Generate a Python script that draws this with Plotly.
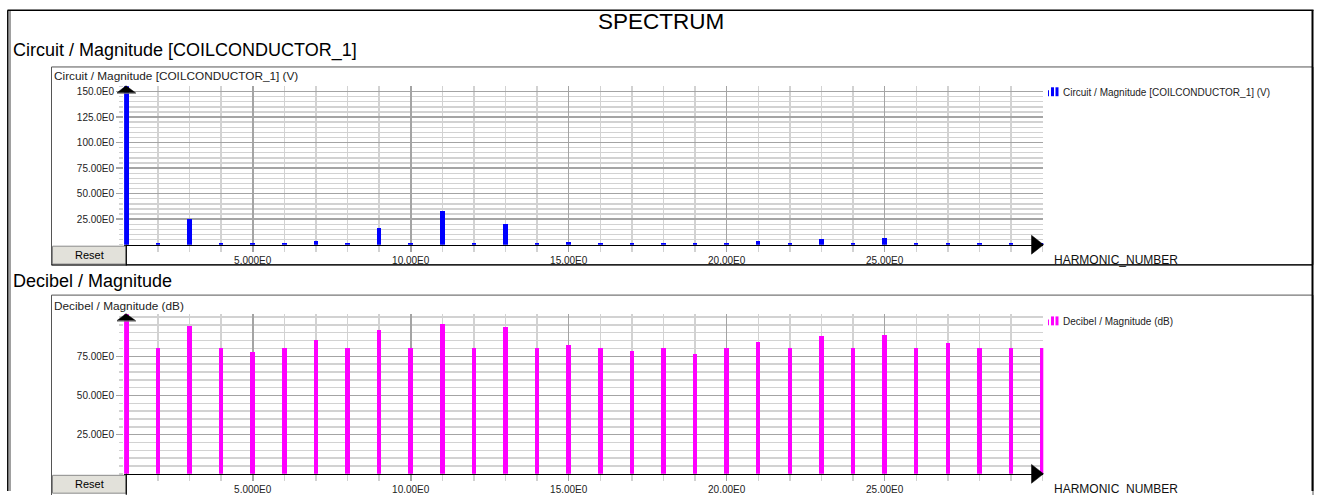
import plotly.graph_objects as go

# ---------------- data ----------------
harmonics = list(range(1, 31))
magnitude_v = [158.0, 1.3, 25.5, 1.3, 1.5, 1.3, 3.9, 1.3, 16.5, 1.3,
               33.0, 1.3, 20.5, 1.3, 2.5, 1.3, 1.3, 1.3, 1.3, 1.3,
               3.2, 1.3, 5.8, 1.3, 6.5, 1.3, 2.0, 1.3, 1.3, 1.3]
magnitude_db = [105.0, 80.2, 94.1, 80.2, 77.7, 80.2, 85.7, 80.2, 92.0, 80.2,
                95.4, 80.1, 94.0, 80.1, 82.1, 80.1, 78.2, 80.1, 76.7, 80.1,
                84.2, 80.1, 87.8, 80.1, 88.5, 80.1, 83.5, 80.1, 80.1, 80.1]
x_tickvals = [5, 10, 15, 20, 25]
x_ticktext = ["5.000E0", "10.00E0", "15.00E0", "20.00E0", "25.00E0"]
v_tickvals = [25, 50, 75, 100, 125, 150]
v_ticktext = ["25.00E0", "50.00E0", "75.00E0", "100.0E0", "125.0E0", "150.0E0"]
db_tickvals = [25, 50, 75]
db_ticktext = ["25.00E0", "50.00E0", "75.00E0"]

name_v = "Circuit / Magnitude [COILCONDUCTOR_1] (V)"
name_db = "Decibel / Magnitude (dB)"

W, H = 1317, 495
def px(x):
    return x / W
def py(y):
    return 1 - y / H

FONT = "Liberation Sans, Arial, sans-serif"
MAJ = "#a4a4a4"
MIN = "#d2d2d2"

fig = go.Figure()
fig.add_trace(go.Bar(x=harmonics, y=magnitude_v, name=name_v, width=0.14,
                     marker=dict(color="#0000ff", line=dict(width=0)),
                     xaxis="x", yaxis="y", showlegend=False))
fig.add_trace(go.Bar(x=harmonics, y=magnitude_db, name=name_db, width=0.14,
                     marker=dict(color="#ff00ff", line=dict(width=0)),
                     xaxis="x2", yaxis="y2", showlegend=False))

# plot area geometry (pixels)
PL, PR = 124.1, 1043.3
T1, B1 = 87.0, 246.7
T2, B2 = 316.7, 477.7

def xaxis_cfg(anchor):
    return dict(domain=[px(PL), px(PR)], range=[0.93, 30.02], anchor=anchor,
                tickmode="array", tickvals=x_tickvals, ticktext=x_ticktext,
                showgrid=True, gridcolor=MAJ, gridwidth=1.6,
                ticks="outside", ticklen=6, tickcolor=MAJ, tickwidth=1.6,
                minor=dict(dtick=1, tick0=0, showgrid=True, gridcolor=MIN, gridwidth=1.4,
                           ticks="outside", ticklen=6, tickcolor=MIN, tickwidth=1.4),
                showline=True, linecolor="black", linewidth=1.5,
                zeroline=False, fixedrange=True,
                tickfont=dict(family=FONT, size=10, color="#222"))

def yaxis_cfg(anchor, rng, top, bottom, tv, tt):
    return dict(domain=[py(bottom), py(top)], range=rng, anchor=anchor,
                tickmode="array", tickvals=tv, ticktext=tt,
                showgrid=True, gridcolor=MAJ, gridwidth=1.6,
                ticks="outside", ticklen=7, tickcolor=MAJ, tickwidth=1.6,
                minor=dict(dtick=5, tick0=0, showgrid=True, gridcolor=MIN, gridwidth=1.4,
                           ticks="outside", ticklen=4, tickcolor=MIN, tickwidth=1.4),
                showline=False, zeroline=False, fixedrange=True,
                tickfont=dict(family=FONT, size=10, color="#222"))

shapes = []
annotations = []

def line(x0, y0, x1, y1, color="black", width=1):
    shapes.append(dict(type="line", xref="paper", yref="paper",
                       x0=px(x0), y0=py(y0), x1=px(x1), y1=py(y1),
                       line=dict(color=color, width=width), layer="above"))

def rect(x0, y0, x1, y1, fill=None, color="black", width=1, layer="above"):
    shapes.append(dict(type="rect", xref="paper", yref="paper",
                       x0=px(x0), y0=py(y0), x1=px(x1), y1=py(y1),
                       fillcolor=fill if fill else "rgba(0,0,0,0)",
                       line=dict(color=color, width=width), layer=layer))

def path(points, fill="black"):
    d = "M " + " L ".join(f"{px(a):.5f},{py(b):.5f}" for a, b in points) + " Z"
    shapes.append(dict(type="path", xref="paper", yref="paper", path=d,
                       fillcolor=fill, line=dict(color=fill, width=0.5), layer="above"))

def text(x, y, s, size, anchor="left", color="#000", family=FONT):
    annotations.append(dict(xref="paper", yref="paper", x=px(x), y=py(y), text=s,
                            showarrow=False, xanchor=anchor, yanchor="middle",
                            font=dict(family=family, size=size, color=color)))

# outer frame
line(7.8, 10.3, 7.8, 495, "black", 1.5)
line(10.0, 11, 10.0, 495, "#808080", 1.5)
line(7.5, 10.3, 1313.5, 10.3, "black", 1.5)
line(1312.5, 10.3, 1312.5, 495, "black", 2)

# section boxes
rect(51.5, 67.5, 1313, 267, color="#555", width=1, layer="below")
rect(51.5, 297.5, 1313, 500, color="#555", width=1, layer="below")
line(51.5, 267, 1313, 267, "black", 1.2)

# axis arrows, reset buttons
for top, bottom in [(T1, B1), (T2, B2)]:
    path([(126, top - 0.5), (117, top + 6.5), (135.5, top + 6.5)])
    line(117, top + 7, 136, top + 7, "#777", 1)
    path([(1031.5, bottom - 9.5), (1043.5, bottom), (1031.5, bottom + 9.5)])
    rect(52.5, bottom + 1.5, 126, bottom + 19.5, fill="#e2e1da", color="#8a8a8a", width=1)
    line(126.3, bottom, 126.3, bottom + 21, "black", 1.2)
    text(89, bottom + 10.3, "Reset", 11, "center")
    text(1052, bottom + 15, "HARMONIC_NUMBER", 12, "left", "#111")

# titles
text(661, 22, "SPECTRUM", 22.5, "center")
text(11, 51, "Circuit / Magnitude [COILCONDUCTOR_1]", 18)
text(11, 283, "Decibel / Magnitude", 18)
text(51.5, 77, name_v, 11.8, "left", "#222")
text(51.5, 308, name_db, 11.8, "left", "#222")

# legend entries (icon + label)
for y0, color, name in [(93, "#0000ff", name_v), (324, "#ff00ff", name_db)]:
    rect(1048, y0 - 2, 1049, y0 + 4, fill=color, color=color, width=0)
    rect(1051, y0 - 5, 1054, y0 + 4, fill=color, color=color, width=0)
    rect(1055.5, y0 - 5, 1058.5, y0 + 4, fill=color, color=color, width=0)
    text(1061, y0, name, 10, "left", "#222")

fig.update_layout(
    width=W, height=H, margin=dict(l=0, r=0, t=0, b=0),
    paper_bgcolor="white", plot_bgcolor="white",
    bargap=0, showlegend=False,
    xaxis=xaxis_cfg("y"),
    yaxis=yaxis_cfg("x", [0, 155.1], T1, B1, v_tickvals, v_ticktext),
    xaxis2=xaxis_cfg("y2"),
    yaxis2=yaxis_cfg("x2", [0, 101.9], T2, B2, db_tickvals, db_ticktext),
    shapes=shapes, annotations=annotations,
    font=dict(family=FONT),
)

fig.write_html("out.html", config={"displayModeBar": False, "staticPlot": True},
               post_script="document.body.style.margin='0';document.body.style.overflow='hidden';")
